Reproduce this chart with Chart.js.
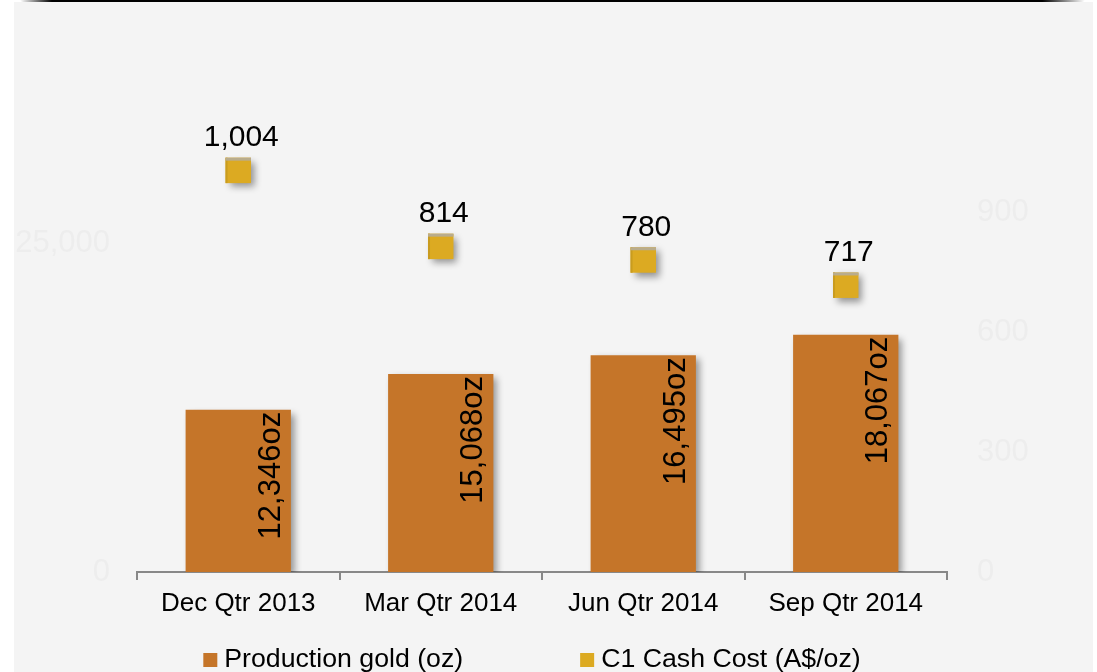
<!DOCTYPE html>
<html lang="en">
<head>
    <meta charset="UTF-8">
    <title>Production and C1 Cash Cost</title>
    <script src="https://cdn.jsdelivr.net/npm/chart.js"></script>
    <style>
        html, body {
            margin: 0;
            padding: 0;
            background: #ffffff;
        }
        .wrap {
            position: relative;
            width: 1097px;
            height: 672px;
            overflow: hidden;
        }
        .panel {
            position: absolute;
            left: 14px;
            top: 2px;
            width: 1079px;
            height: 670px;
            background: #f4f4f4;
        }
        .topbar {
            position: absolute;
            left: 20px;
            top: -1px;
            width: 1065px;
            height: 3px;
            border-radius: 0 0 6px 6px;
            background: linear-gradient(to right, rgba(0,0,0,0) 0%, #000 3%, #000 96%, rgba(0,0,0,0) 100%);
        }
        canvas {
            position: absolute;
            left: 0;
            top: 0;
        }
    </style>
</head>
<body>
    <div class="wrap">
        <div class="panel"></div>
        <div class="topbar"></div>
        <canvas id="prodChart" width="1097" height="672"></canvas>
    </div>

    <script>
        // chart data
        const quarters = ['Dec Qtr 2013', 'Mar Qtr 2014', 'Jun Qtr 2014', 'Sep Qtr 2014'];
        const productionOz = [12346, 15068, 16495, 18067];
        const cashCost = [1004, 814, 780, 717];
        const leftTicks = [0, 25000];
        const rightTicks = [0, 300, 600, 900];

        const barColor = '#c57529';
        const pointColor = '#dcaa22';
        const font = 'Liberation Sans, Arial, sans-serif';
        const markerRadius = 18;

        const fmt = v => v.toLocaleString('en-US');

        // soft drop shadow under the bars and markers
        const shadowPlugin = {
            id: 'shadow',
            beforeDatasetDraw(chart) {
                const ctx = chart.ctx;
                ctx.save();
                ctx.shadowColor = 'rgba(0,0,0,0.4)';
                ctx.shadowBlur = 7;
                ctx.shadowOffsetX = 4;
                ctx.shadowOffsetY = 4;
            },
            afterDatasetDraw(chart) {
                chart.ctx.restore();
            }
        };

        // value labels: rotated inside bars, above the markers
        const labelPlugin = {
            id: 'valueLabels',
            afterDatasetsDraw(chart) {
                const ctx = chart.ctx;
                ctx.save();

                // little bevel on the square markers
                const half = markerRadius * Math.SQRT1_2;
                chart.getDatasetMeta(1).data.forEach(pt => {
                    ctx.fillStyle = '#c99c1f';
                    ctx.fillRect(pt.x - half, pt.y - half, 2, half * 2);
                    ctx.fillStyle = '#b9ac8c';
                    ctx.fillRect(pt.x - half, pt.y - half, half * 2, 3);
                });

                ctx.fillStyle = '#000';
                ctx.font = '31px ' + font;
                chart.getDatasetMeta(0).data.forEach((bar, i) => {
                    ctx.save();
                    ctx.translate(bar.x + bar.width / 2 - 11, bar.y + 2);
                    ctx.rotate(-Math.PI / 2);
                    ctx.textAlign = 'right';
                    ctx.textBaseline = 'alphabetic';
                    ctx.fillText(fmt(productionOz[i]) + 'oz', 0, 0);
                    ctx.restore();
                });

                ctx.font = '30px ' + font;
                ctx.textAlign = 'center';
                ctx.textBaseline = 'alphabetic';
                chart.getDatasetMeta(1).data.forEach((pt, i) => {
                    ctx.fillText(fmt(cashCost[i]), pt.x + 3, pt.y - 24);
                });
                ctx.restore();
            }
        };

        // legend drawn under the axis, centred on the plot
        const legendPlugin = {
            id: 'bottomLegend',
            afterDraw(chart) {
                const ctx = chart.ctx;
                const area = chart.chartArea;
                const box = 14, gap = 7, space = 117;
                ctx.save();
                ctx.font = '26.7px ' + font;
                ctx.textBaseline = 'middle';
                ctx.textAlign = 'left';
                const items = chart.data.datasets.map(ds => ({
                    text: ds.label,
                    color: ds.legendColor,
                    w: box + gap + ctx.measureText(ds.label).width
                }));
                const total = items.reduce((s, it) => s + it.w, 0) + space * (items.length - 1);
                let x = (area.left + area.right) / 2 - total / 2 - 10;
                const y = 660;
                items.forEach(it => {
                    ctx.fillStyle = it.color;
                    ctx.fillRect(x, y - box / 2, box, box);
                    ctx.fillStyle = '#000';
                    ctx.fillText(it.text, x + box + gap, y);
                    x += it.w + space;
                });
                ctx.restore();
            }
        };

        const ctx = document.getElementById('prodChart').getContext('2d');
        new Chart(ctx, {
            data: {
                labels: quarters,
                datasets: [
                    {
                        type: 'bar',
                        label: 'Production gold (oz)',
                        data: productionOz,
                        backgroundColor: barColor,
                        legendColor: barColor,
                        yAxisID: 'y',
                        categoryPercentage: 0.52,
                        barPercentage: 1,
                        order: 2
                    },
                    {
                        type: 'line',
                        label: 'C1 Cash Cost (A$/oz)',
                        data: cashCost,
                        showLine: false,
                        pointStyle: 'rect',
                        pointRadius: markerRadius,
                        pointHoverRadius: markerRadius,
                        pointBackgroundColor: pointColor,
                        pointBorderWidth: 0,
                        legendColor: pointColor,
                        yAxisID: 'y1',
                        order: 1
                    }
                ]
            },
            options: {
                responsive: false,
                animation: false,
                events: [],
                layout: {
                    padding: { top: 132, left: 0, right: 0, bottom: 0 }
                },
                plugins: {
                    legend: { display: false },
                    tooltip: { enabled: false }
                },
                scales: {
                    x: {
                        offset: true,
                        grid: {
                            offset: true,
                            drawOnChartArea: false,
                            drawTicks: true,
                            tickLength: 8,
                            color: '#888888',
                            lineWidth: 2
                        },
                        border: { display: true, color: '#888888', width: 2 },
                        ticks: {
                            color: '#000',
                            padding: 8,
                            maxRotation: 0,
                            font: { family: font, size: 26 }
                        },
                        afterFit(scale) { scale.height = 100; }
                    },
                    y: {
                        position: 'left',
                        min: 0,
                        max: 33500,
                        grid: { display: false },
                        border: { display: false },
                        ticks: {
                            color: '#ededed',
                            padding: 19,
                            font: { family: font, size: 31 },
                            callback: v => fmt(v)
                        },
                        afterBuildTicks(scale) {
                            scale.ticks = leftTicks.map(v => ({ value: v }));
                        },
                        afterFit(scale) { scale.width = 137; }
                    },
                    y1: {
                        position: 'right',
                        min: 0,
                        max: 1100,
                        grid: { display: false },
                        border: { display: false },
                        ticks: {
                            color: '#ededed',
                            padding: 22,
                            font: { family: font, size: 31 },
                            callback: v => fmt(v)
                        },
                        afterBuildTicks(scale) {
                            scale.ticks = rightTicks.map(v => ({ value: v }));
                        },
                        afterFit(scale) { scale.width = 150; }
                    }
                }
            },
            plugins: [shadowPlugin, labelPlugin, legendPlugin]
        });
    </script>
</body>
</html>
